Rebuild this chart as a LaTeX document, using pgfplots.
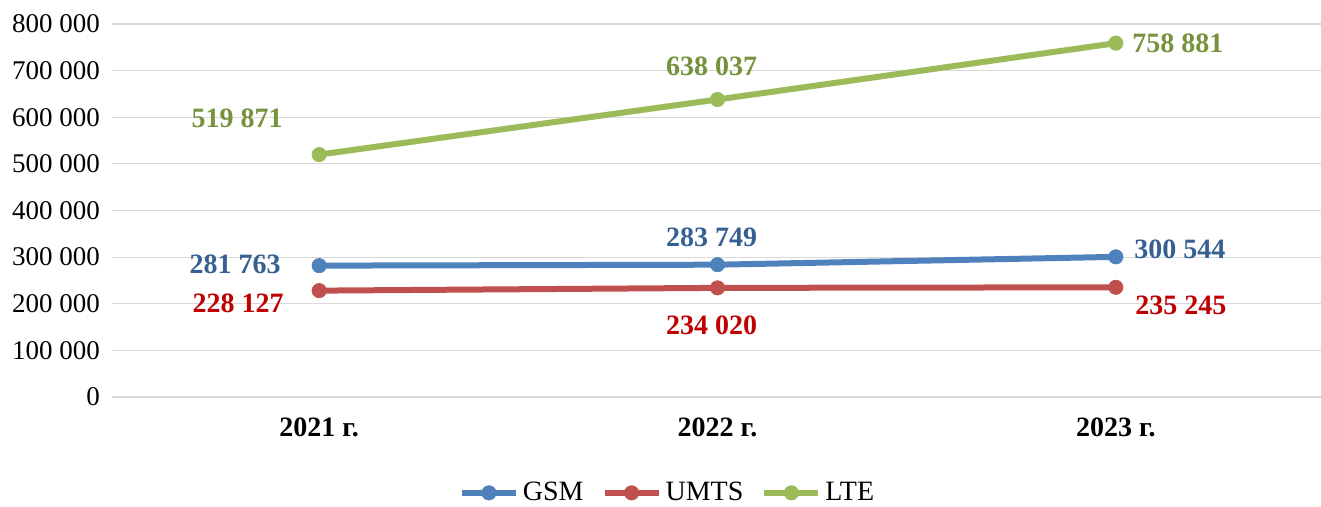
\documentclass[border=0pt]{standalone}
\usepackage{fontspec}
\setmainfont{Liberation Serif}
\usepackage{pgfplots}
\usepackage{pgfplotstable}
\pgfplotsset{compat=1.18}
\definecolor{gsm}{RGB}{79,129,189}
\definecolor{umts}{RGB}{192,80,77}
\definecolor{lte}{RGB}{155,187,89}
\definecolor{gsmlab}{RGB}{55,96,146}
\definecolor{umtslab}{RGB}{192,0,0}
\definecolor{ltelab}{RGB}{118,146,60}
\definecolor{gridc}{RGB}{217,217,217}
\pgfplotstableread{
x y dx dy
0 281763 -42 0.5
1 283749 -3 13.5
2 300544 32 4
}\gsmdata
\pgfplotstableread{
x y dx dy
0 228127 -40.5 -6.5
1 234020 -3 -18.5
2 235245 32.5 -9
}\umtsdata
\pgfplotstableread{
x y dx dy
0 519871 -41 18
1 638037 -3 16.5
2 758881 31 0
}\ltedata
\begin{document}
\begin{tikzpicture}
\path[use as bounding box] (0,0) rectangle (660.5pt,253.5pt);
\begin{axis}[
  at={(60pt,55pt)}, anchor=south west,
  scale only axis, width=597.5pt, height=186.5pt,
  xmin=-0.5, xmax=2.5, ymin=0, ymax=800000,
  xtick={0,1,2}, xticklabels={2021 г.,2022 г.,2023 г.},
  x tick label style={font=\fontsize{14}{16}\selectfont\bfseries, yshift=-3pt},
  ytick={0,100000,...,800000},
  scaled y ticks=false,
  y tick label style={font=\fontsize{13.5}{16}\selectfont, xshift=-2.5pt},
  yticklabel={\pgfmathprintnumber[fixed,precision=0,1000 sep={\ },assume math mode=true]{\tick}},
  ymajorgrids, grid style={gridc, line width=0.6pt},
  axis line style={draw=none},
  xtick style={draw=none},
  ytick style={gridc, line width=0.6pt},
  tick align=outside, major tick length=4pt,
  clip=false,
  legend style={draw=none, at={(0.459,-0.257)}, anchor=center,
    font=\fontsize{14}{16}\selectfont, legend columns=3,
    nodes={inner xsep=2pt},
    /tikz/every even column/.append style={column sep=7pt}},
  legend image code/.code={\draw[#1,mark repeat=2,mark phase=2] plot coordinates {(0pt,0pt) (13.5pt,0pt) (27pt,0pt)};},
  every axis plot/.append style={line width=3pt, mark=*, mark size=3.6pt, mark options={line width=0.3pt}},
  nodes near coords={\pgfmathprintnumber[fixed,precision=0,1000 sep={\ },assume math mode=true]{\pgfplotspointmeta}},
  point meta=explicit,
  visualization depends on={\thisrow{dx} \as \dx},
  visualization depends on={\thisrow{dy} \as \dy},
  nodes near coords style={anchor=center, xshift=\dx pt, yshift=\dy pt, font=\fontsize{14}{16}\selectfont\bfseries},
]
\addplot[gsm, nodes near coords style={text=gsmlab}] table[x=x,y=y,meta=y] {\gsmdata};
\addlegendentry{GSM}
\addplot[umts, nodes near coords style={text=umtslab}] table[x=x,y=y,meta=y] {\umtsdata};
\addlegendentry{UMTS}
\addplot[lte, nodes near coords style={text=ltelab}] table[x=x,y=y,meta=y] {\ltedata};
\addlegendentry{LTE}
\end{axis}
\end{tikzpicture}
\end{document}
